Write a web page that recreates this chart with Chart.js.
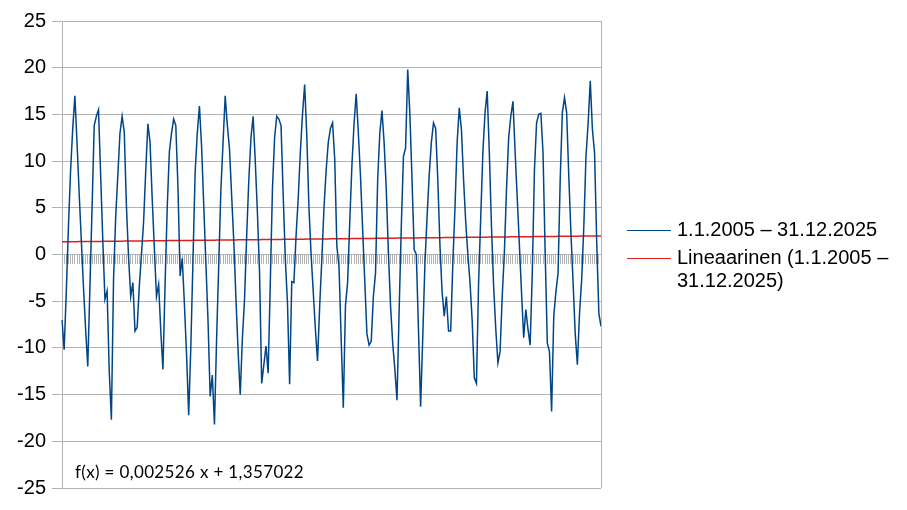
<!DOCTYPE html>
<html>
<head>
<meta charset="utf-8">
<script src="https://cdn.jsdelivr.net/npm/chart.js"></script>
<style>
  body { margin: 0; background: #fff; }
  #wrap { position: relative; width: 907px; height: 510px; }
  .leg { position: absolute; font-family: "Liberation Sans", Arial, sans-serif; font-size: 20px; line-height: 23px; color: #000; white-space: nowrap; }
  .sample { position: absolute; left: 627px; width: 44px; height: 0; }
  #formula { position: absolute; left: 75px; top: 462px; font-family: Lato, "Open Sans", sans-serif; font-size: 17px; letter-spacing: 0.35px; line-height: 20px; color: #000; white-space: nowrap; }
</style>
</head>
<body>
<div id="wrap">
  <canvas id="chart" width="907" height="510"></canvas>
  <div class="sample" style="top:230px; border-top:1.5px solid #004586;"></div>
  <div class="leg" id="leg1" style="left:677px; top:218px;"></div>
  <div class="sample" style="top:258px; border-top:1.5px solid #e0201b;"></div>
  <div class="leg" id="leg2" style="left:677px; top:246px;"></div>
  <div id="formula"></div>
</div>
<script>
// monthly values, one row per year 2005-2025
const years = [2005, 2006, 2007, 2008, 2009, 2010, 2011, 2012, 2013, 2014, 2015,
               2016, 2017, 2018, 2019, 2020, 2021, 2022, 2023, 2024, 2025];
const months = [1, 2, 3, 4, 5, 6, 7, 8, 9, 10, 11, 12];
const temps = [
  -7.0, -10.2, -4.0, 3.0, 9.0, 13.5, 17.0, 12.0, 6.5, 1.5, -3.5, -8.0,
  -12.0, -3.5, 5.0, 13.8, 14.8, 15.5, 8.5, 1.5, -4.8, -3.9, -12.5, -17.7,
  -2.7, 4.0, 8.5, 13.0, 14.8, 13.1, 5.2, -0.3, -4.5, -3.0, -8.2, -7.8,
  -3.4, 0.0, 3.5, 9.0, 14.0, 12.0, 6.0, 0.7, -4.5, -3.2, -8.2, -12.3,
  -3.2, 5.0, 11.0, 13.0, 14.5, 13.8, 7.2, -2.3, -0.4, -5.3, -10.7, -17.2,
  -9.8, -0.5, 8.8, 13.0, 15.9, 11.6, 5.3, -0.9, -7.1, -15.2, -12.9, -18.2,
  -9.0, -1.0, 7.0, 12.0, 17.0, 13.8, 11.3, 6.3, 1.4, -4.7, -10.3, -15.0,
  -9.0, -4.8, 2.0, 8.0, 12.5, 14.8, 10.0, 4.5, -2.0, -13.8, -11.8, -9.8,
  -12.7, -3.0, 7.0, 12.5, 14.8, 14.5, 13.8, 6.4, -0.5, -5.2, -13.9, -2.9,
  -3.0, 2.0, 6.0, 11.0, 15.0, 18.2, 12.7, 5.0, 0.0, -4.0, -8.0, -11.4,
  -5.5, -0.5, 5.0, 9.0, 12.0, 13.5, 14.1, 10.2, 0.9, -1.3, -9.0, -16.4,
  -5.5, -3.0, 3.5, 9.5, 14.0, 17.2, 13.0, 8.4, 2.7, -2.9, -8.5, -9.7,
  -9.3, -4.5, -2.0, 8.0, 13.0, 15.4, 12.0, 7.0, 0.2, -5.5, -9.5, -12.3,
  -15.6, -6.0, 3.0, 10.5, 11.4, 19.8, 15.0, 8.0, 0.5, 0.0, -8.0, -16.3,
  -8.8, -1.0, 4.0, 8.5, 12.0, 14.1, 13.5, 8.0, 1.0, -4.0, -6.6, -4.5,
  -8.2, -8.2, -1.0, 5.0, 12.0, 15.7, 13.4, 8.0, 3.5, 0.0, -3.0, -7.0,
  -13.2, -13.8, -3.0, 4.0, 11.0, 15.2, 17.5, 10.9, 3.0, -3.4, -8.0, -11.6,
  -10.4, -4.5, 0.2, 7.0, 12.5, 14.8, 16.4, 11.0, 6.0, 1.0, -4.1, -8.9,
  -5.9, -8.0, -9.7, -2.0, 9.0, 14.1, 15.0, 15.1, 10.9, 0.2, -9.5, -10.4,
  -16.8, -6.6, -4.0, -2.0, 8.0, 15.2, 16.8, 15.2, 8.4, 2.3, -3.0, -8.5,
  -11.8, -6.3, -2.7, 3.0, 10.5, 14.0, 18.6, 13.4, 10.9, 1.4, -6.3, -7.7
];
const yTicks = [-25, -20, -15, -10, -5, 0, 5, 10, 15, 20, 25];
// linear trend line as printed on the chart
const trendSlope = 0.002526;
const trendIntercept = 1.357022;
const seriesName = "1.1.2005 \u2013 31.12.2025";
const trendName = "Lineaarinen (1.1.2005 \u2013<br>31.12.2025)";
const formulaText = "f(x) = 0,002526 x + 1,357022";

const labels = [];
years.forEach(y => months.forEach(m => labels.push(m + "/" + y)));
const trend = temps.map((v, i) => trendIntercept + trendSlope * (i + 1));

document.getElementById("leg1").textContent = seriesName;
document.getElementById("leg2").innerHTML = trendName;
document.getElementById("formula").textContent = formulaText;

const gridGrey = "#b3b3b3";

// right edge of the plot box
const frame = {
  id: "frame",
  afterDraw(chart) {
    const { ctx, chartArea } = chart;
    ctx.save();
    ctx.strokeStyle = gridGrey;
    ctx.lineWidth = 1;
    ctx.beginPath();
    ctx.moveTo(Math.round(chartArea.right) + 0.5, chartArea.top);
    ctx.lineTo(Math.round(chartArea.right) + 0.5, chartArea.bottom);
    ctx.stroke();
    ctx.restore();
  }
};

new Chart(document.getElementById("chart"), {
  type: "line",
  data: {
    labels: labels,
    datasets: [
      { data: temps, borderColor: "#004586", borderWidth: 1.5, pointRadius: 0, tension: 0 },
      { data: trend, borderColor: "#e0201b", borderWidth: 1.5, pointRadius: 0, tension: 0 }
    ]
  },
  options: {
    responsive: false,
    animation: false,
    events: [],
    layout: { padding: { left: 0, top: 21, right: 306, bottom: 22 } },
    plugins: { legend: { display: false }, tooltip: { enabled: false } },
    scales: {
      x: {
        position: { y: 0 },
        offset: false,
        ticks: { display: false },
        grid: { drawOnChartArea: false, drawTicks: true, tickLength: 9, color: gridGrey },
        border: { display: true, color: gridGrey }
      },
      y: {
        min: -25,
        max: 25,
        afterBuildTicks: s => { s.ticks = yTicks.map(v => ({ value: v })); },
        afterFit: s => { s.width = 62; },
        ticks: { padding: 6, color: "#000", font: { family: "'Liberation Sans', Arial, sans-serif", size: 20 } },
        grid: { color: gridGrey, tickLength: 10 },
        border: { display: true, color: gridGrey }
      }
    }
  },
  plugins: [frame]
});
</script>
</body>
</html>
